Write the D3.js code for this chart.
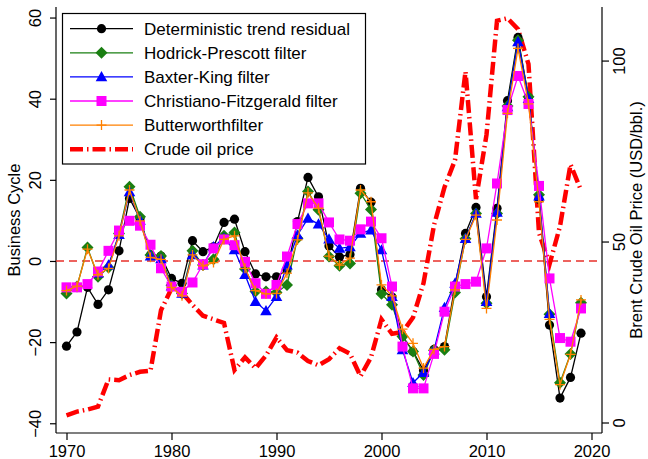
<!DOCTYPE html>
<html>
<head>
<meta charset="utf-8">
<script src="https://cdn.jsdelivr.net/npm/d3@7"></script>
<style>
  body { margin: 0; background: #fff; }
  svg text { font-family: "Liberation Sans", Arial, sans-serif; fill: #000; }
</style>
</head>
<body>
<svg id="chart" width="648" height="459"></svg>
<script>
const years = d3.range(1970, 2020);

// deterministic trend residual
const detTrend = [-21, -17.5, -6.5, -10.7, -7.1, 2.5, 15.4, 10.5, 1.5, 1.2,
  -4.3, -5.5, 5.0, 2.3, 3.5, 9.5, 10.3, 2.3, -3.2, -3.9,
  -3.9, -2.2, 9.7, 20.6, 15.8, 3.7, 1.0, 1.6, 17.9, 14.5,
  -7.1, -8.9, -18.5, -22.3, -27, -21.8, -21.1, -6, 6.8, 13.2,
  -8.8, 13.0, 39.5, 55.1, 40.3, 15.2, -15.8, -33.8, -28.7, -17.8];

const hpFilter = [-8, -6.3, 3.3, -3.9, -1.6, 6.8, 18.3, 10.9, 1.5, 1.2,
  -6, -8, 2.5, -1, 0.4, 6.2, 7.0, -2, -7.5, -7.5,
  -7.8, -5.9, 5.6, 17.1, 12.6, 1.1, -1.2, -0.6, 16.7, 12.7,
  -8.1, -10.8, -18.6, -22.3, -28.1, -22, -21.9, -7.8, 5.5, 11.7,
  -10.4, 11.7, 38.2, 54.4, 40.5, 16.3, -13.1, -30, -22.9, -10.3];

// Baxter-King loses three years at each end (1973-2016)
const bkYears = d3.range(1973, 2017);
const bkFilter = [-3, -1, 6.5, 17, 10, 1.2, 0.5,
  -6.2, -8, 1.5, -1, 3.5, 5.6, 2.7, -3.4, -10, -12.3,
  -8.8, -1, 6.4, 10.5, 9.1, 5.4, 3.1, 3.5, 6.8, 7.6,
  2.7, -8.8, -21.9, -30, -27.5, -22, -11.5, -5.5, 5.5, 11.7,
  -10, 12, 38, 54, 40, 16, -13];

const cfFilter = [-6.5, -6.5, -5.7, -2.6, 2.5, 7.5, 9.9, 8.7, 4.0, -1.8,
  -6.3, -7.6, -5.3, -0.8, 3.1, 5.3, 3.9, -0.2, -5.5, -8.1,
  -5.9, 1.1, 9.1, 14.2, 14.2, 9.5, 5.3, 5.0, 7.8, 9.7,
  5.6, -6.3, -21.1, -31.4, -31.4, -22.9, -12.5, -6.3, -5.7, -5.1,
  3.1, 19.1, 37.2, 45.6, 38.7, 18.5, -4.3, -19.0, -19.9, -11.7];

const bwFilter = [-7.3, -6.2, 2.9, -3.4, -1.8, 6.2, 17.5, 9.9, 0.9, 0.4,
  -6.5, -8.6, 1.5, -1.2, -0.4, 5.3, 6.2, -1.8, -7.3, -8.1,
  -8.0, -3, 5.2, 16.8, 13.0, 1.2, -1.0, 0.7, 17.5, 14.6,
  -5.9, -8.6, -16.8, -20.3, -26.4, -21.8, -21.1, -7.1, 5.3, 11.3,
  -11.7, 10.1, 36.4, 52.4, 38.7, 14.6, -14.4, -30.5, -23, -9.6];

// Brent crude, USD/bbl (right axis)
const oilPrice = [2.0, 3.0, 3.6, 4.4, 11.9, 11.7, 13.1, 14.0, 14.3, 31,
  37, 35.9, 32.5, 29.5, 28.5, 27.5, 14.5, 18, 15, 18.5,
  23.5, 20, 19.3, 17, 15.8, 17.5, 20.5, 19, 12.8, 18,
  28.5, 24.5, 25, 29, 38.5, 54.5, 65, 72.5, 97, 61.7,
  79.5, 111, 111.7, 108.7, 99, 52.4, 43.7, 54.2, 71.3, 64.2];

const xTicks = [1970, 1980, 1990, 2000, 2010, 2020];
const leftTicks = [-40, -20, 0, 20, 40, 60];
const rightTicks = [0, 50, 100];

const svg = d3.select('#chart');
const plotLeft = 56, plotRight = 602, plotTop = 7, plotBottom = 433;

const x = d3.scaleLinear().domain([1969, 2021]).range([plotLeft, plotRight]);
const y = d3.scaleLinear().domain([-42.4, 62.6]).range([plotBottom, plotTop]);
const y2 = d3.scaleLinear().domain([-2.9, 114.8]).range([plotBottom, plotTop]);

// axes
const fontSize = 16.5;

const xAxis = svg.append('g')
  .attr('transform', `translate(0,${plotBottom})`)
  .call(d3.axisBottom(x).tickValues(xTicks).tickFormat(d3.format('d')).tickSize(7).tickPadding(3).tickSizeOuter(0));

const yAxis = svg.append('g')
  .attr('transform', `translate(${plotLeft},0)`)
  .call(d3.axisLeft(y).tickValues(leftTicks).tickSize(6).tickSizeOuter(0));

const y2Axis = svg.append('g')
  .attr('transform', `translate(${plotRight},0)`)
  .call(d3.axisRight(y2).tickValues(rightTicks).tickSize(7).tickSizeOuter(0));

[xAxis, yAxis, y2Axis].forEach(a => {
  a.selectAll('path, line').attr('stroke', '#000').attr('stroke-width', 1.2);
  a.selectAll('text').style('font-size', fontSize + 'px').attr('fill', '#000');
});

// stretch axis lines across the whole plot area
xAxis.select('path.domain').attr('d', `M${plotLeft},0H${plotRight}`);
yAxis.select('path.domain').attr('d', `M0,${plotTop}V${plotBottom}`);
y2Axis.select('path.domain').attr('d', `M0,${plotTop}V${plotBottom}`);

// rotated tick labels on both vertical axes
yAxis.selectAll('.tick text')
  .attr('x', 0).attr('y', 0).attr('dy', null)
  .attr('text-anchor', 'middle')
  .attr('transform', 'translate(-15,0) rotate(-90)');

y2Axis.selectAll('.tick text')
  .attr('x', 0).attr('y', 0).attr('dy', null)
  .attr('text-anchor', 'middle')
  .attr('transform', 'translate(23,0) rotate(-90)');

xAxis.selectAll('.tick text').attr('dy', '0.86em');

// axis titles
svg.append('text')
  .attr('transform', `translate(20,${(plotTop + plotBottom) / 2}) rotate(-90)`)
  .attr('text-anchor', 'middle')
  .style('font-size', fontSize + 'px')
  .text('Business Cycle');

svg.append('text')
  .attr('transform', `translate(642,${(plotTop + plotBottom) / 2}) rotate(-90)`)
  .attr('text-anchor', 'middle')
  .style('font-size', fontSize + 'px')
  .text('Brent Crude Oil Price (USD/bbl.)');

// zero reference line
svg.append('line')
  .attr('x1', plotLeft).attr('x2', plotRight)
  .attr('y1', y(0)).attr('y2', y(0))
  .attr('stroke', '#e8302a')
  .attr('stroke-width', 1.3)
  .attr('stroke-dasharray', '8,5');

// oil price
const oilLine = d3.line().x((d, i) => x(years[i])).y(d => y2(d));
svg.append('path')
  .datum(oilPrice)
  .attr('d', oilLine)
  .attr('fill', 'none')
  .attr('stroke', '#ff0000')
  .attr('stroke-width', 4.5)
  .attr('stroke-dasharray', '13,4,1.5,4');

// business cycle series
const series = [
  {name: 'Deterministic trend residual', xs: years, values: detTrend, color: '#000000', marker: 'circle'},
  {name: 'Hodrick-Prescott filter', xs: years, values: hpFilter, color: '#1a7f12', marker: 'diamond'},
  {name: 'Baxter-King filter', xs: bkYears, values: bkFilter, color: '#0000ff', marker: 'triangle'},
  {name: 'Christiano-Fitzgerald filter', xs: years, values: cfFilter, color: '#ff00ff', marker: 'square'},
  {name: 'Butterworthfilter', xs: years, values: bwFilter, color: '#ff8000', marker: 'plus'}
];

function drawMarker(g, type, color, cx, cy) {
  if (type === 'circle') {
    g.append('circle').attr('cx', cx).attr('cy', cy).attr('r', 4.6).attr('fill', color);
  } else if (type === 'diamond') {
    const s = 6;
    g.append('path').attr('d', `M${cx},${cy - s}L${cx + s},${cy}L${cx},${cy + s}L${cx - s},${cy}Z`).attr('fill', color);
  } else if (type === 'triangle') {
    const s = 5.8;
    g.append('path').attr('d', `M${cx},${cy - s}L${cx + s},${cy + s * 0.75}L${cx - s},${cy + s * 0.75}Z`).attr('fill', color);
  } else if (type === 'square') {
    const s = 5;
    g.append('rect').attr('x', cx - s).attr('y', cy - s).attr('width', 2 * s).attr('height', 2 * s).attr('fill', color);
  } else if (type === 'plus') {
    const s = 5;
    g.append('path').attr('d', `M${cx - s},${cy}H${cx + s}M${cx},${cy - s}V${cy + s}`)
      .attr('stroke', color).attr('stroke-width', 1.3).attr('fill', 'none');
  }
}

series.forEach(s => {
  const g = svg.append('g');
  const line = d3.line().x((d, i) => x(s.xs[i])).y(d => y(d));
  g.append('path')
    .datum(s.values)
    .attr('d', line)
    .attr('fill', 'none')
    .attr('stroke', s.color)
    .attr('stroke-width', 1.3);
  s.values.forEach((v, i) => drawMarker(g, s.marker, s.color, x(s.xs[i]), y(v)));
});

// legend
const legend = svg.append('g').attr('class', 'legend');
legend.append('rect')
  .attr('x', 62.5).attr('y', 13.5)
  .attr('width', 303).attr('height', 150.5)
  .attr('fill', '#fff')
  .attr('stroke', '#000')
  .attr('stroke-width', 1.2);

const rowY = i => 28.7 + i * 24.1;

series.forEach((s, i) => {
  const g = legend.append('g');
  g.append('line')
    .attr('x1', 70).attr('x2', 133)
    .attr('y1', rowY(i)).attr('y2', rowY(i))
    .attr('stroke', s.color).attr('stroke-width', 1.3);
  drawMarker(g, s.marker, s.color, 101.5, rowY(i));
  g.append('text')
    .attr('x', 144).attr('y', rowY(i) + 6)
    .style('font-size', '17px')
    .text(s.name);
});

legend.append('line')
  .attr('x1', 70).attr('x2', 133)
  .attr('y1', rowY(5)).attr('y2', rowY(5))
  .attr('stroke', '#ff0000').attr('stroke-width', 4.5)
  .attr('stroke-dasharray', '13,4,1.5,4');
legend.append('text')
  .attr('x', 144).attr('y', rowY(5) + 6)
  .style('font-size', '17px')
  .text('Crude oil price');
</script>
</body>
</html>
